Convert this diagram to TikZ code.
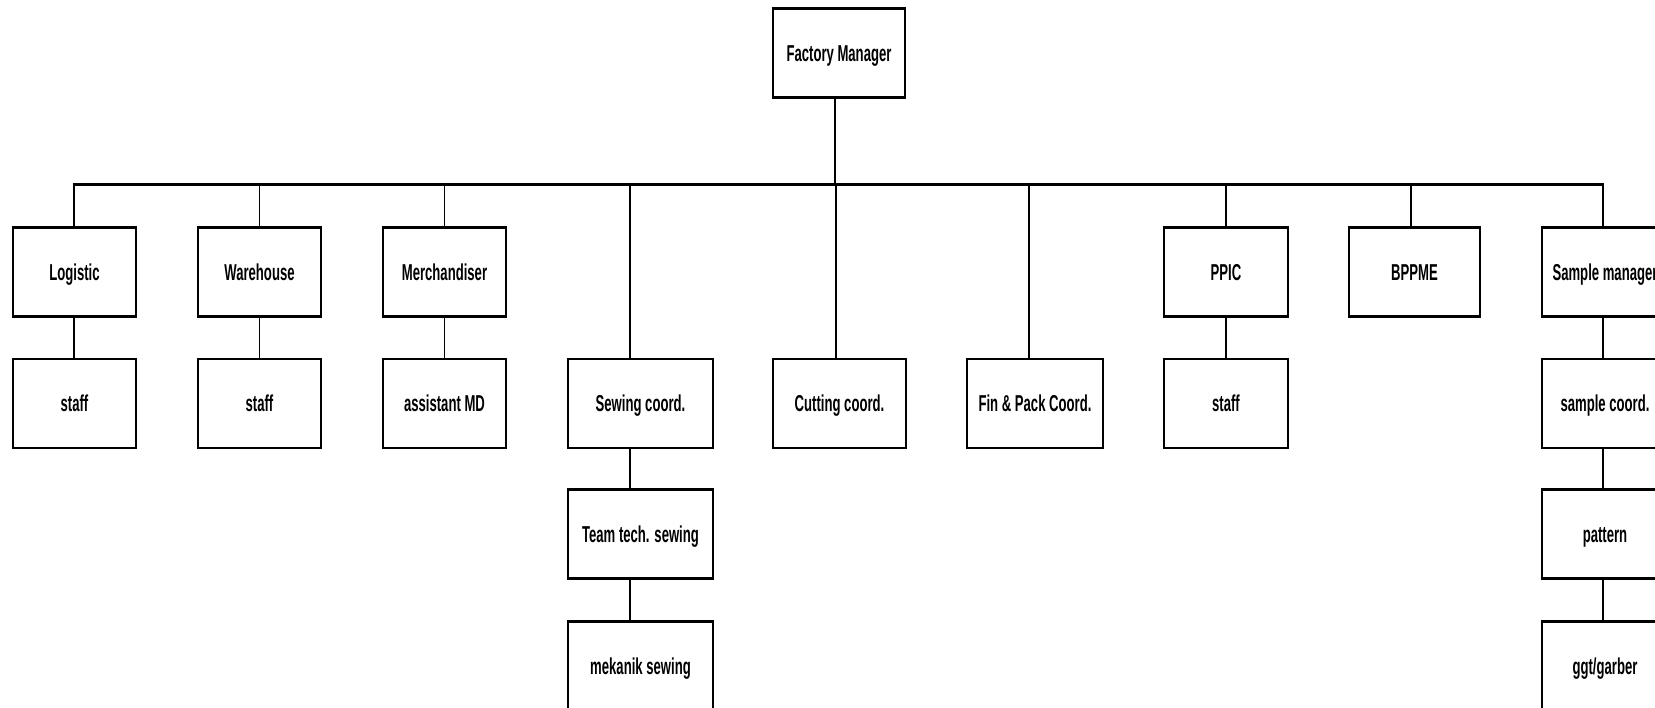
\documentclass[tikz,border=0pt]{standalone}
\usepackage{fontspec}
\setmainfont{Liberation Sans}
\usepackage{graphicx}
\newcommand{\lbl}[1]{\scalebox{0.57}[1]{\bfseries #1}}
\begin{document}
\begin{tikzpicture}[x=1pt,y=-1pt,
  orgbox/.style={draw, line width=1.1pt, minimum width=#1, minimum height=88pt, inner sep=0pt,
     text height=16pt, text depth=-3pt, font=\fontsize{23}{26}\selectfont},
  orgbox/.default=123pt,
  conn/.style={line width=1.1pt},
  bus/.style={line width=2.6pt}]
\clip (0,0) rectangle (1655,707);
\useasboundingbox (0,0) rectangle (1655,707);
\fill[white] (0,0) rectangle (1655,707);
% nodes
\node[orgbox=132pt] (fm) at (839,53) {\lbl{Factory Manager}};
\node[orgbox] (log) at (74.5,272) {\lbl{Logistic}};
\node[orgbox] (wh) at (259.5,272) {\lbl{Warehouse}};
\node[orgbox] (mer) at (444.5,272) {\lbl{Merchandiser}};
\node[orgbox=124pt] (ppic) at (1226,272) {\lbl{PPIC}};
\node[orgbox=131pt] (bpp) at (1414.5,272) {\lbl{BPPME}};
\node[orgbox=126pt] (smg) at (1605,272) {\lbl{Sample manager}};
\node[orgbox] (st1) at (74.5,403.5) {\lbl{staff}};
\node[orgbox] (st2) at (259.5,403.5) {\lbl{staff}};
\node[orgbox] (amd) at (444.5,403.5) {\lbl{assistant MD}};
\node[orgbox=145pt] (sew) at (640.5,403.5) {\lbl{Sewing coord.}};
\node[orgbox=133pt] (cut) at (839.5,403.5) {\lbl{Cutting coord.}};
\node[orgbox=136pt] (fin) at (1035,403.5) {\lbl{Fin \& Pack Coord.}};
\node[orgbox=124pt] (st3) at (1226,403.5) {\lbl{staff}};
\node[orgbox=126pt] (sco) at (1605,403.5) {\lbl{sample coord.}};
\node[orgbox=145pt] (team) at (640.5,534) {\lbl{Team tech. sewing}};
\node[orgbox=126pt] (pat) at (1605,534) {\lbl{pattern}};
\node[orgbox=145pt] (mek) at (640.5,666) {\lbl{mekanik sewing}};
\node[orgbox=126pt] (ggt) at (1605,666) {\lbl{ggt/garber}};
% thick top and bottom edges
\foreach \n in {fm,log,wh,mer,ppic,bpp,smg,st1,st2,amd,sew,cut,fin,st3,sco,team,pat,mek,ggt}
  \draw[line width=2.6pt] ([xshift=-0.55pt]\n.north west) -- ([xshift=0.55pt]\n.north east)
        ([xshift=-0.55pt]\n.south west) -- ([xshift=0.55pt]\n.south east);
% bus coordinates
\coordinate (bfm) at (835,184.5);
\coordinate (blog) at (74,184.5);
\coordinate (bwh) at (259.5,184.5);
\coordinate (bmer) at (444.5,184.5);
\coordinate (bsew) at (630,184.5);
\coordinate (bcut) at (836,184.5);
\coordinate (bfin) at (1029,184.5);
\coordinate (bppic) at (1226,184.5);
\coordinate (bbpp) at (1411,184.5);
\coordinate (bsmg) at (1603,184.5);
\draw[bus] ([xshift=-0.55pt]blog) -- ([xshift=0.55pt]bsmg);
\draw[conn] (bfm) -- (bfm |- fm.south);
\draw[conn] (blog) -- (blog |- log.north);
\draw[conn] (bwh) -- (bwh |- wh.north);
\draw[conn] (bmer) -- (bmer |- mer.north);
\draw[conn] (bsew) -- (bsew |- sew.north);
\draw[conn] (bcut) -- (bcut |- cut.north);
\draw[conn] (bfin) -- (bfin |- fin.north);
\draw[conn] (bppic) -- (bppic |- ppic.north);
\draw[conn] (bbpp) -- (bbpp |- bpp.north);
\draw[conn] (bsmg) -- (bsmg |- smg.north);
% stacked links
\draw[conn] (blog |- log.south) -- (blog |- st1.north);
\draw[conn] (bwh |- wh.south) -- (bwh |- st2.north);
\draw[conn] (bmer |- mer.south) -- (bmer |- amd.north);
\draw[conn] (bppic |- ppic.south) -- (bppic |- st3.north);
\draw[conn] (bsew |- sew.south) -- (bsew |- team.north);
\draw[conn] (bsew |- team.south) -- (bsew |- mek.north);
\draw[conn] (bsmg |- smg.south) -- (bsmg |- sco.north);
\draw[conn] (bsmg |- sco.south) -- (bsmg |- pat.north);
\draw[conn] (bsmg |- pat.south) -- (bsmg |- ggt.north);
\end{tikzpicture}
\end{document}
